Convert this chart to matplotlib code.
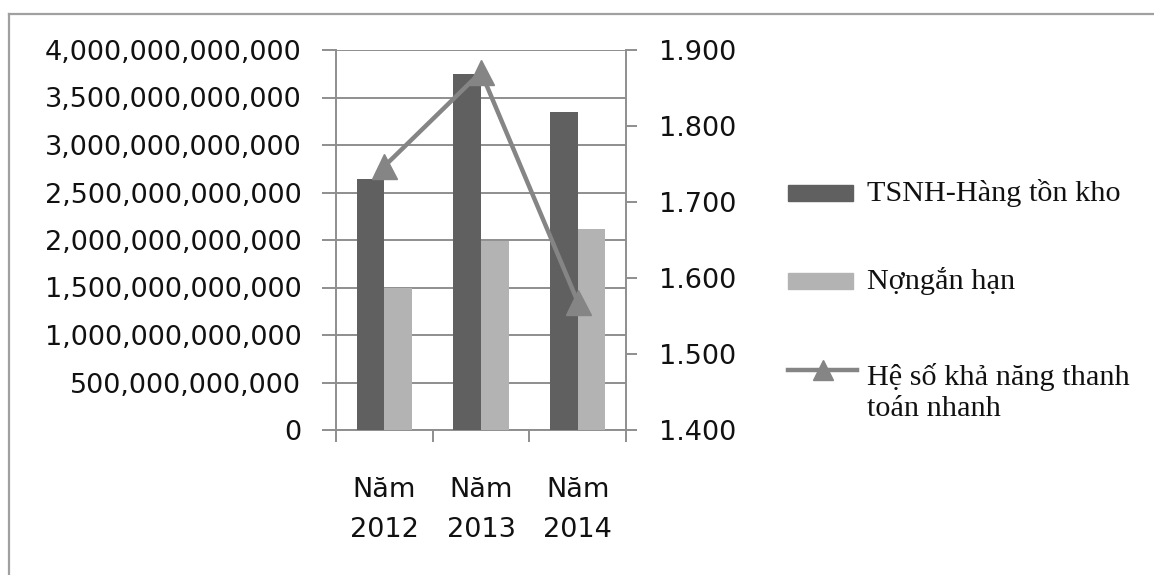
import numpy as np
import matplotlib
matplotlib.use("Agg")
import matplotlib.pyplot as plt
from matplotlib.lines import Line2D
from matplotlib.patches import Rectangle
from matplotlib.ticker import FuncFormatter, FixedLocator

# ---- data ----
categories = ["Năm\n2012", "Năm\n2013", "Năm\n2014"]
tsnh_minus_inventory = [2.642e12, 3.744e12, 3.344e12]
short_term_debt = [1.492e12, 1.993e12, 2.113e12]
quick_ratio = [1.747, 1.871, 1.569]
series_names = ["TSNH-Hàng tồn kho", "Nợngắn hạn", "Hệ số khả năng thanh\ntoán nhanh"]

# ---- style ----
W, H = 1154, 575
DARK = "#606060"
LIGHT = "#b3b3b3"
LINE = "#858585"
GRID = "#8e8e8e"
AX_FONT = "DejaVu Sans"
LEG_FONT = "Liberation Serif"
FS = 19.5
LEG_FS = 21.8

fig = plt.figure(figsize=(W / 100, H / 100), dpi=100)
fig.patch.set_facecolor("white")

def px(x, y):
    """pixel (from top-left) -> figure fraction"""
    return x / W, 1 - y / H

left, top = px(336, 50)
right, bottom = px(626, 430)
ax = fig.add_axes([left, bottom, right - left, top - bottom])

x = np.arange(len(categories))
bw = 0.2857
ax.bar(x - bw / 2, tsnh_minus_inventory, width=bw, color=DARK, zorder=3)
ax.bar(x + bw / 2, short_term_debt, width=bw, color=LIGHT, zorder=3)

ax.set_xlim(-0.5, len(categories) - 0.5)
ax.set_ylim(0, 4e12)
ax.set_yticks(np.arange(0, 4.0e12 + 1, 5e11))
ax.yaxis.set_major_formatter(FuncFormatter(lambda v, p: f"{int(round(v)):,}"))
ax.yaxis.grid(True, color=GRID, lw=1.4, zorder=0)
ax.set_axisbelow(True)

# category boundary ticks and centred labels
ax.xaxis.set_major_locator(FixedLocator(np.arange(len(categories) + 1) - 0.5))
ax.xaxis.set_major_formatter(FuncFormatter(lambda v, p: ""))
ax.xaxis.set_minor_locator(FixedLocator(x))
ax.set_xticklabels(categories, minor=True)
ax.tick_params(axis="x", which="major", direction="out", length=8.5, width=1.4, color=GRID)
ax.tick_params(axis="x", which="minor", length=0, pad=33.5, labelsize=FS)
ax.tick_params(axis="y", direction="out", length=10, width=1.4, color=GRID, pad=15, labelsize=FS)
for lbl in ax.get_xticklabels(minor=True) + ax.get_yticklabels():
    lbl.set_fontfamily(AX_FONT)
    lbl.set_color("#111111")
for lbl in ax.get_xticklabels(minor=True):
    lbl.set_linespacing(1.72)

for s in ("top", "right"):
    ax.spines[s].set_visible(False)
for s in ("left", "bottom"):
    ax.spines[s].set_color(GRID)
    ax.spines[s].set_linewidth(1.4)

# secondary axis for the ratio
ax2 = ax.twinx()
ax2.plot(x, quick_ratio, color=LINE, lw=3.2, marker="^", ms=18,
         markerfacecolor=LINE, markeredgecolor=LINE, zorder=4)
ax2.set_ylim(1.4, 1.9)
ax2.set_yticks(np.round(np.arange(1.4, 1.9001, 0.1), 1))
ax2.yaxis.set_major_formatter(FuncFormatter(lambda v, p: f"{v:.3f}"))
ax2.tick_params(axis="y", direction="out", length=8, width=1.4, color=GRID, pad=16, labelsize=FS)
for lbl in ax2.get_yticklabels():
    lbl.set_fontfamily(AX_FONT)
    lbl.set_color("#111111")
for s in ("top", "left", "bottom"):
    ax2.spines[s].set_visible(False)
ax2.spines["right"].set_color(GRID)
ax2.spines["right"].set_linewidth(1.4)

# legend
tr = fig.transFigure
hx0, hx1 = 788, 853
tx = 867
rows = [193, 281, 370]
baselines = [201, 289, 416]
fig.add_artist(Rectangle(px(hx0, rows[0] + 8), (hx1 - hx0) / W, 16 / H,
                         transform=tr, color=DARK))
fig.add_artist(Rectangle(px(hx0, rows[1] + 8), (hx1 - hx0) / W, 16 / H,
                         transform=tr, color=LIGHT))
lx0, ly = px(hx0, rows[2])
lx1, _ = px(857, rows[2])
fig.add_artist(Line2D([lx0, lx1], [ly, ly], transform=tr, color=LINE, lw=3.2))
fig.add_artist(Line2D([(lx0 + lx1) / 2], [ly], transform=tr, color=LINE,
                      marker="^", ms=14, lw=0))
for name, by_ in zip(series_names, baselines):
    fx, fy = px(tx, by_)
    fig.text(fx, fy, name, family=LEG_FONT, fontsize=LEG_FS, color="#111111",
             ha="left", va="baseline", linespacing=1.25)

# outer frame (left and top edges)
bx, by = px(9, 14)
fig.add_artist(Line2D([bx, bx], [0, by], transform=tr, color="#a0a0a0", lw=1.6))
fig.add_artist(Line2D([bx, 1], [by, by], transform=tr, color="#a0a0a0", lw=1.6))

fig.savefig("out.png", dpi=100, facecolor="white")
